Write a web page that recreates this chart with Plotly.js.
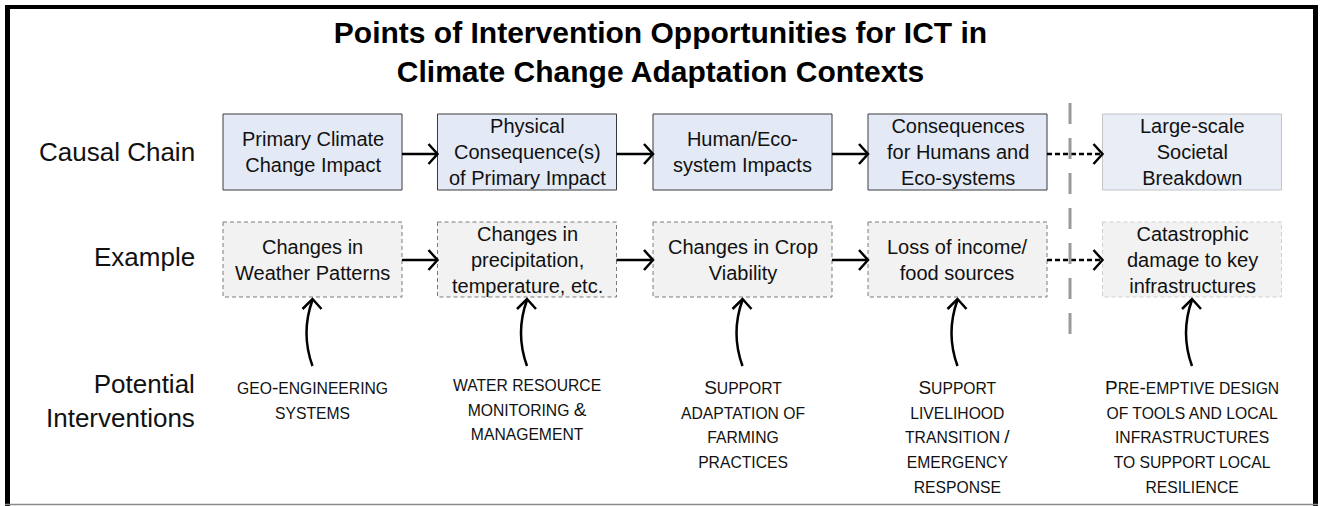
<!DOCTYPE html>
<html>
<head>
<meta charset="utf-8">
<script src="https://cdn.plot.ly/plotly-3.0.1.min.js"></script>
<style>html,body{margin:0;padding:0;background:#fff;}</style>
</head>
<body>
<div id="chart" style="width:1321px;height:506px;"></div>
<script>
// ---------- content ----------
const titleText = 'Points of Intervention Opportunities for ICT in<br>Climate Change Adaptation Contexts';
const rowLabels = ['Causal Chain', 'Example', 'Potential<br>Interventions'];
const causalChain = [
  'Primary Climate<br>Change Impact',
  'Physical<br>Consequence(s)<br>of Primary Impact',
  'Human/Eco-<br>system Impacts',
  'Consequences<br>for Humans and<br>Eco-systems',
  'Large-scale<br>Societal<br>Breakdown'
];
const examples = [
  'Changes in<br>Weather Patterns',
  'Changes in<br>precipitation,<br>temperature, etc.',
  'Changes in Crop<br>Viability',
  'Loss of income/<br>food sources',
  'Catastrophic<br>damage to key<br>infrastructures'
];
// written in mixed case, rendered as small caps
const interventions = [
  'geo-engineering<br>systems',
  'water resource<br>monitoring &<br>management',
  'Support<br>adaptation of<br>farming<br>practices',
  'Support<br>livelihood<br>transition /<br>emergency<br>response',
  'Pre-emptive design<br>of tools and local<br>infrastructures<br>to support local<br>resilience'
];
const stageIsSpeculative = [false, false, false, false, true];

// ---------- geometry / style ----------
const W = 1321, H = 506;
const FONT = 'Liberation Sans, Arial, sans-serif';
const colCenters = [312.5, 527, 742.5, 957.5, 1192];
const boxHalf = 89.5;
const row1 = [114, 190], row2 = [222, 297];
const row1Arrow = 154, row2Arrow = 260;
const labelRight = 197;
const dividerX = 1070;

function smallCaps(s) {
  return s.split('<br>').map(line =>
    line.replace(/[a-z][a-z ]*/g, m => '<span style="font-size:15.7px">' + m.toUpperCase() + '</span>')
  ).join('<br>');
}

const shapes = [];
const annotations = [];

// boxes
colCenters.forEach((c, i) => {
  const spec = stageIsSpeculative[i];
  shapes.push({type: 'rect', xref: 'x', yref: 'y', x0: c - boxHalf, x1: c + boxHalf, y0: row1[0], y1: row1[1],
    fillcolor: spec ? '#e8edf6' : '#e4eaf5', line: {color: spec ? '#c4c4c4' : '#3a3a3a', width: 1}, layer: 'below'});
  shapes.push({type: 'rect', xref: 'x', yref: 'y', x0: c - boxHalf, x1: c + boxHalf, y0: row2[0], y1: row2[1],
    fillcolor: '#f2f2f2', line: {color: spec ? '#cfcfcf' : '#7a7a7a', width: 1, dash: '4px,3px'}, layer: 'below'});
  annotations.push({x: c, y: (row1[0] + row1[1]) / 2, xref: 'x', yref: 'y', text: causalChain[i], showarrow: false,
    xanchor: 'center', yanchor: 'middle', font: {family: FONT, size: 20, color: '#111'}});
  annotations.push({x: c, y: (row2[0] + row2[1]) / 2, xref: 'x', yref: 'y', text: examples[i], showarrow: false,
    xanchor: 'center', yanchor: 'middle', font: {family: FONT, size: 20, color: '#111'}});
  annotations.push({x: c, y: 375, xref: 'x', yref: 'y', text: smallCaps(interventions[i]), showarrow: false,
    xanchor: 'center', yanchor: 'top', font: {family: FONT, size: 19, color: '#111'}});
  // curved arrow from intervention up to example box
  shapes.push({type: 'path', xref: 'x', yref: 'y', path: `M ${c},366 Q ${c - 12},333 ${c},300`,
    line: {color: '#000', width: 2.5}});
  shapes.push({type: 'path', xref: 'x', yref: 'y', path: `M ${c - 10},309 L ${c},299 L ${c + 9},309`,
    line: {color: '#000', width: 2.5}});
});

// horizontal arrows
for (let i = 0; i < colCenters.length - 1; i++) {
  const xs = colCenters[i] + boxHalf, xe = colCenters[i + 1] - boxHalf;
  const dashed = stageIsSpeculative[i + 1];
  [row1Arrow, row2Arrow].forEach(y => {
    shapes.push({type: 'line', xref: 'x', yref: 'y', x0: xs, x1: xe - 1.5, y0: y, y1: y,
      line: {color: '#000', width: 2.5, dash: dashed ? '5px,3px' : 'solid'}});
    shapes.push({type: 'path', xref: 'x', yref: 'y', path: `M ${xe - 9},${y - 10} L ${xe},${y} L ${xe - 9},${y + 10}`,
      line: {color: '#000', width: 2.5}});
  });
}

// divider
shapes.push({type: 'line', xref: 'x', yref: 'y', x0: dividerX, x1: dividerX, y0: 103, y1: 334,
  line: {color: '#9a9a9a', width: 3, dash: '21px,14px'}});

// frame
shapes.push({type: 'line', xref: 'x', yref: 'y', x0: 7.5, x1: 7.5, y0: 5, y1: 506, line: {color: '#000', width: 5}});
shapes.push({type: 'line', xref: 'x', yref: 'y', x0: 5, x1: 1318, y0: 7, y1: 7, line: {color: '#000', width: 4}});
shapes.push({type: 'line', xref: 'x', yref: 'y', x0: 1315.5, x1: 1315.5, y0: 5, y1: 506, line: {color: '#000', width: 5}});
shapes.push({type: 'line', xref: 'x', yref: 'y', x0: 5, x1: 1318, y0: 504.5, y1: 504.5, line: {color: '#8a8a8a', width: 1.5}});

// row labels
const labelY = [152, 257, 401];
rowLabels.forEach((t, i) => {
  annotations.push({x: labelRight, y: labelY[i], xref: 'x', yref: 'y', text: t, showarrow: false,
    xanchor: 'right', yanchor: 'middle', align: 'right', font: {family: FONT, size: 26, color: '#111'}});
});

const layout = {
  width: W, height: H,
  margin: {l: 0, r: 0, t: 0, b: 0, pad: 0},
  paper_bgcolor: '#fff', plot_bgcolor: '#fff',
  showlegend: false,
  title: {text: '<b>' + titleText + '</b>', x: 0.5, xanchor: 'center', xref: 'paper',
    y: 1 - 43 / H, yref: 'container', yanchor: 'middle', font: {family: FONT, size: 30, color: '#000'}},
  xaxis: {range: [0, W], visible: false, fixedrange: true},
  yaxis: {range: [H, 0], visible: false, fixedrange: true},
  shapes: shapes,
  annotations: annotations
};

Plotly.newPlot('chart', [{x: [], y: [], type: 'scatter', mode: 'markers', hoverinfo: 'skip'}], layout,
  {staticPlot: true, displayModeBar: false});
</script>
</body>
</html>
